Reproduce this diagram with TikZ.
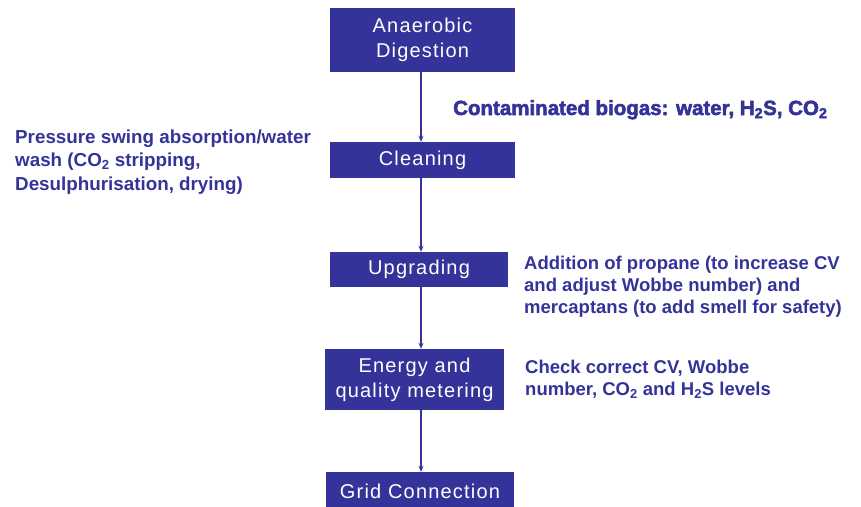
\documentclass[tikz,border=0pt]{standalone}
\usepackage{fontspec}
\setmainfont{Liberation Sans}
\newfontfamily\stagefont[LetterSpace=6]{Liberation Sans}
\newfontfamily\heavyfont[BoldFeatures={FakeBold=2.5}]{Liberation Sans}
\usetikzlibrary{arrows.meta}
\definecolor{navy}{HTML}{333399}

\begin{document}
\begin{tikzpicture}[x=1pt,y=-1pt,line join=round,>={Stealth[length=6pt,width=5pt]},
	stage/.style={fill=navy,text=white,align=center,inner sep=0pt,
		font=\stagefont\fontsize{20}{25}\selectfont},
	note/.style={text=navy,align=left,anchor=base west,inner sep=0pt,
		font=\bfseries\fontsize{18.5}{22}\selectfont},
	flow/.style={->,draw=navy,line width=1.8pt}]
	\useasboundingbox (0,0) rectangle (861,506);
	\coordinate (spine) at (421,0);
	
	\node[stage,minimum width=185pt,minimum height=64pt] (digest) at (422.5,40) {Anaerobic\\Digestion};
	\node[stage,minimum width=185pt,minimum height=36pt] (clean) at (422.5,160) {Cleaning};
	\node[stage,minimum width=178pt,minimum height=35pt] (upgrade) at (419,269.5) {Upgrading};
	\node[stage,minimum width=179pt,minimum height=61pt] (meter) at (414.5,379.5) {Energy and\\quality metering};
	\node[stage,minimum width=188pt,minimum height=38pt] (grid) at (420,491) {Grid Connection};
	
	\draw[flow] (digest.south -| spine) -- (clean.north -| spine);
	\draw[flow] (clean.south -| spine) -- (upgrade.north -| spine);
	\draw[flow] (upgrade.south -| spine) -- (meter.north -| spine);
	\draw[flow] (meter.south -| spine) -- (grid.north -| spine);
	
	% base anchor sits on the last line
	\node[note,font=\heavyfont\bfseries\fontsize{20.5}{24}\selectfont] (gas) at (453,115) {Contaminated biogas: water, H\textsubscript{2}S, CO\textsubscript{2}};
	\node[note,font=\bfseries\fontsize{18.8}{23.5}\selectfont] (wash) at (15,190) {Pressure swing absorption/water\\wash (CO\textsubscript{2} stripping,\\Desulphurisation, drying)};
	\node[note] (propane) at (524,313) {Addition of propane (to increase CV\\and adjust Wobbe number) and\\mercaptans (to add smell for safety)};
	\node[note] (check) at (525,395) {Check correct CV, Wobbe\\number, CO\textsubscript{2} and H\textsubscript{2}S levels};
\end{tikzpicture}
\end{document}
